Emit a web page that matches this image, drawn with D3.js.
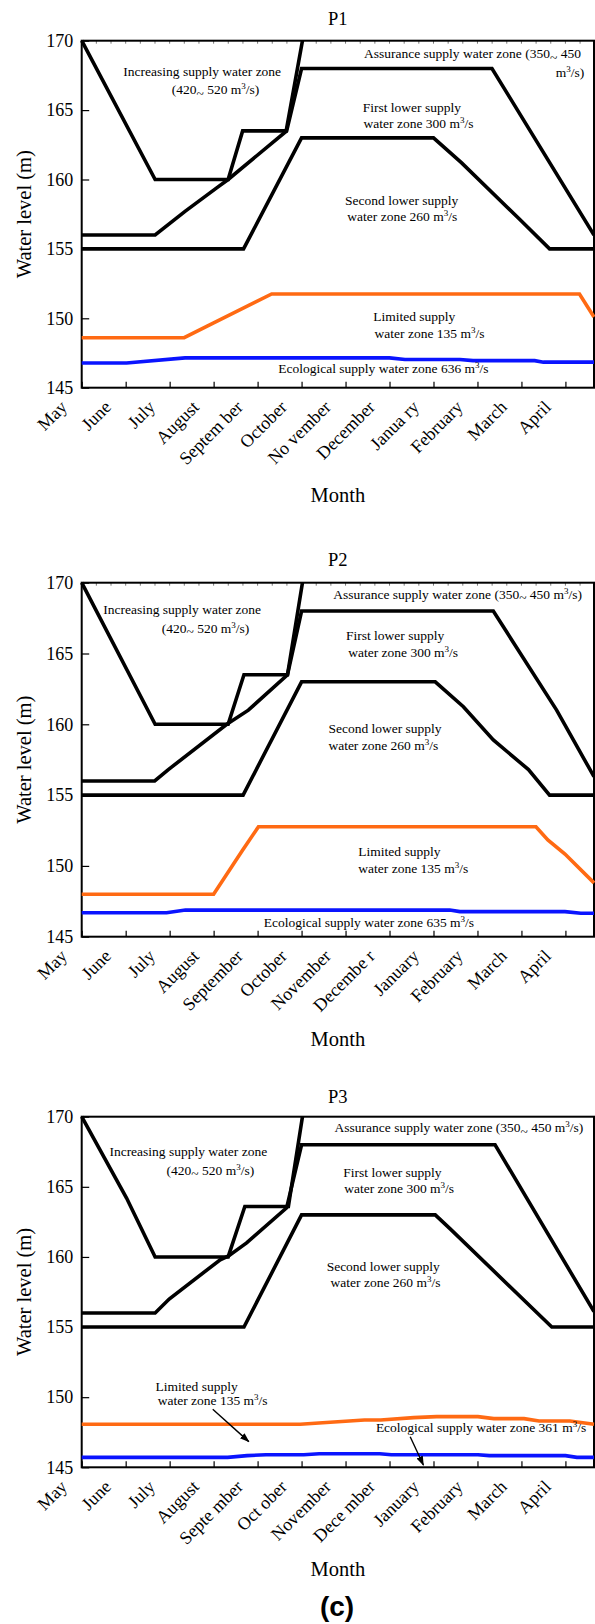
<!DOCTYPE html>
<html><head><meta charset="utf-8">
<script src="https://cdn.jsdelivr.net/npm/d3@7"></script>
<style>
body{margin:0;background:#fff}
text{font-family:"Liberation Serif","Times New Roman",serif;fill:#000}
</style>
</head><body>
<svg id="c" width="595" height="1624"></svg>
<script>
// ---------------- DATA ----------------
const yTicks = [145, 150, 155, 160, 165, 170];
const monthTicks = [0,1,2,3,4,5,6,7,8,9,10,11];
const p1Months = ["May","June","July","August","Septem ber","October","No vember","December","Janua ry","February","March","April"];
const p2Months = ["May","June","July","August","September","October","November","Decembe r","January","February","March","April"];
const p3Months = ["May","June","July","August","Septe mber","Oct ober","November","Dece mber","January","February","March","April"];

// [month index from 1 May, water level m]
const p1Increasing  = [[0,170],[1.67,160],[3.33,160],[3.66,163.5],[4.65,163.5],[5.02,170]];
const p1FirstLower  = [[0,156],[1.67,156],[2.35,157.7],[3.07,159.4],[3.33,160],[4.66,163.5],[5.0,168],[9.33,168],[11.65,156]];
const p1SecondLower = [[0,155],[3.68,155],[5.0,163],[8.0,163],[8.64,161.2],[9.97,157.1],[10.64,155],[11.65,155]];
const p1Limited     = [[0,148.6],[2.33,148.6],[2.99,149.65],[4.32,151.75],[11.32,151.75],[11.65,150.1]];
const p1Ecological  = [[0,146.78],[1.02,146.78],[2.35,147.15],[7.0,147.15],[7.35,147.03],[8.6,147.03],[8.9,146.95],[10.3,146.95],[10.5,146.84],[11.65,146.84]];

const p2Increasing  = [[0,170],[1.67,160],[3.33,160],[3.69,163.5],[4.68,163.5],[5.02,170]];
const p2FirstLower  = [[0,156],[1.66,156],[1.97,156.8],[3.3,160],[3.79,161],[4.68,163.5],[5.0,168],[9.36,168],[10.8,161],[11.65,156.3]];
const p2SecondLower = [[0,155],[3.67,155],[5.0,163],[8.04,163],[8.68,161.24],[9.36,158.9],[10.16,156.8],[10.64,155],[11.65,155]];
const p2Limited     = [[0,148],[3.0,148],[3.65,151.07],[4.02,152.77],[10.33,152.77],[10.6,151.83],[10.99,150.84],[11.65,148.8]];
const p2Ecological  = [[0,146.69],[1.93,146.69],[2.36,146.88],[8.37,146.88],[8.6,146.77],[10.99,146.77],[11.35,146.66],[11.65,146.66]];

const p3Increasing  = [[0,170],[1.02,164.2],[1.67,160],[3.33,160],[3.71,163.6],[4.7,163.6],[5.02,170]];
const p3FirstLower  = [[0,156],[1.67,156],[1.99,157],[3.15,159.8],[3.34,160.07],[3.75,161],[4.66,163.5],[5.0,168],[9.4,168],[11.65,156.1]];
const p3SecondLower = [[0,155],[3.69,155],[5.0,163],[8.04,163],[8.38,162],[10.69,155],[11.65,155]];
const p3Limited     = [[0,148.07],[4.97,148.07],[5.48,148.18],[6.43,148.37],[6.8,148.37],[7.55,148.54],[8.07,148.61],[9.01,148.61],[9.37,148.47],[10.06,148.47],[10.4,148.3],[11.1,148.3],[11.65,148.07]];
const p3Ecological  = [[0,145.71],[3.32,145.71],[3.76,145.83],[4.19,145.9],[5.05,145.9],[5.4,145.97],[6.78,145.97],[7.04,145.9],[9.01,145.9],[9.27,145.83],[11.0,145.83],[11.26,145.71],[11.65,145.71]];

// annotation texts ("^3" = superscript 3, "~" = lowered tilde)
const p1Notes = ["Increasing supply water zone","(420~ 520 m^3/s)","Assurance supply water zone (350~ 450","m^3/s)","First lower supply","water zone 300 m^3/s","Second lower supply","water zone 260 m^3/s","Limited supply","water zone 135 m^3/s","Ecological supply water zone 636 m^3/s"];
const p2Notes = ["Increasing supply water zone","(420~ 520 m^3/s)","Assurance supply water zone (350~ 450 m^3/s)","First lower supply","water zone 300 m^3/s","Second lower supply","water zone 260 m^3/s","Limited supply","water zone 135 m^3/s","Ecological supply water zone 635 m^3/s"];
const p3Notes = ["Increasing supply water zone","(420~ 520 m^3/s)","Assurance supply water zone (350~ 450 m^3/s)","First lower supply","water zone 300 m^3/s","Second lower supply","water zone 260 m^3/s","Limited supply","water zone 135 m^3/s","Ecological supply water zone 361 m^3/s"];

// ---------------- LAYOUT ----------------
const p1NotePos = [[0.946,167.46,"start"],[2.047,166.14,"start"],[6.42,168.73,"start"],[11.43,167.41,"end"],[6.39,164.88,"start"],[6.41,163.69,"start"],[5.99,158.16,"start"],[6.04,157.03,"start"],[6.63,149.83,"start"],[6.66,148.56,"start"],[4.47,146.04,"start"]];
const p2NotePos = [[0.49,167.79,"start"],[1.82,166.47,"start"],[5.72,168.85,"start"],[6.01,165.95,"start"],[6.06,164.73,"start"],[5.61,159.36,"start"],[5.61,158.19,"start"],[6.29,150.7,"start"],[6.29,149.48,"start"],[4.14,145.71,"start"]];
const p3NotePos = [[0.63,167.2,"start"],[1.93,165.85,"start"],[5.75,168.89,"start"],[5.95,165.73,"start"],[5.97,164.54,"start"],[5.57,159.02,"start"],[5.66,157.84,"start"],[1.68,150.46,"start"],[1.73,149.44,"start"],[6.69,147.54,"start"]];
const p3Arrows = [[[2.98,149.14],[3.80,146.83]],[[7.47,147.18],[7.77,145.16]]];

const LEFT = 81.7, RIGHT = 594, XMAX = 11.65;
const BLACK = "#000", ORANGE = "#ff6a13", BLUE = "#0a14ff";

const panels = [
  {title:"P1", top:40.7, bottom:387.7, titleY:24.5, monthY:501.7, labels:p1Months,
   lines:[[p1Increasing,BLACK],[p1FirstLower,BLACK],[p1SecondLower,BLACK],[p1Limited,ORANGE],[p1Ecological,BLUE]],
   notes:p1Notes, notePos:p1NotePos, arrows:[], topTicks:true},
  {title:"P2", top:582.7, bottom:936.7, titleY:566, monthY:1045.5, labels:p2Months,
   lines:[[p2Increasing,BLACK],[p2FirstLower,BLACK],[p2SecondLower,BLACK],[p2Limited,ORANGE],[p2Ecological,BLUE]],
   notes:p2Notes, notePos:p2NotePos, arrows:[], topTicks:true},
  {title:"P3", top:1116.7, bottom:1467.3, titleY:1102.7, monthY:1575.5, labels:p3Months,
   lines:[[p3Increasing,BLACK],[p3FirstLower,BLACK],[p3SecondLower,BLACK],[p3Limited,ORANGE],[p3Ecological,BLUE]],
   notes:p3Notes, notePos:p3NotePos, arrows:p3Arrows, topTicks:false}
];

const svg = d3.select("#c");
svg.append("defs").append("marker")
  .attr("id","arr").attr("viewBox","0 0 10 10").attr("refX",9).attr("refY",5)
  .attr("markerWidth",7).attr("markerHeight",7).attr("orient","auto")
  .append("path").attr("d","M0,1.5 L10,5 L0,8.5 Z").attr("fill","#000");

function richText(sel, str){
  const parts = str.split(/(\^3|~)/).filter(s => s.length);
  let shift = 0;
  parts.forEach(p => {
    if (p === "^3"){
      sel.append("tspan").attr("dy", -5 - shift).attr("font-size", "9px").text("3");
      shift = -5;
    } else if (p === "~"){
      sel.append("tspan").attr("dy", 3.5 - shift).text("~");
      shift = 3.5;
    } else {
      const t = sel.append("tspan").text(p);
      if (shift !== 0){ t.attr("dy", -shift); shift = 0; }
    }
  });
}

panels.forEach(P => {
  const x = d3.scaleLinear().domain([0, XMAX]).range([LEFT, RIGHT]);
  const y = d3.scaleLinear().domain([145, 170]).range([P.bottom, P.top]);
  const g = svg.append("g");

  // y axis ticks (inward) + labels
  const yAx = g.append("g").attr("transform",`translate(${LEFT},0)`)
    .call(d3.axisLeft(y).tickValues(yTicks).tickSizeInner(-7.5).tickSizeOuter(0).tickPadding(8.5).tickFormat(d3.format("d")));
  yAx.select(".domain").remove();
  yAx.selectAll("line").attr("stroke","#000").attr("stroke-width",1.2);
  yAx.selectAll("text").attr("font-size","18px").attr("font-family","Liberation Serif, serif").attr("fill","#000");

  // x axis ticks (inward)
  const xAx = g.append("g").attr("transform",`translate(0,${P.bottom})`)
    .call(d3.axisBottom(x).tickValues(monthTicks).tickSizeInner(-6).tickSizeOuter(0).tickFormat(""));
  xAx.select(".domain").remove();
  xAx.selectAll("line").attr("stroke","#000").attr("stroke-width",1.2);

  // month labels rotated
  g.selectAll(".ml").data(monthTicks).enter().append("text")
    .attr("transform", d => `translate(${x(d)-13.5},${P.bottom+20.5}) rotate(-45)`)
    .attr("text-anchor","end").attr("font-size","18px")
    .text((d,i) => P.labels[i]);

  // top minor ticks (every third of a month)
  if (P.topTicks){
    const minor = d3.range(1, 35).map(k => k/3).filter(v => v < XMAX);
    g.selectAll(".tt").data(minor).enter().append("line")
      .attr("x1", d => x(d)).attr("x2", d => x(d))
      .attr("y1", P.top).attr("y2", P.top + 3)
      .attr("stroke","#555").attr("stroke-width",0.8);
  }

  // frame
  g.append("rect").attr("x", LEFT).attr("y", P.top)
    .attr("width", RIGHT - LEFT).attr("height", P.bottom - P.top)
    .attr("fill","none").attr("stroke","#000").attr("stroke-width",2);

  // data lines
  const line = d3.line().x(d => x(d[0])).y(d => y(d[1]));
  P.lines.forEach(([data, col]) => {
    g.append("path").datum(data).attr("d", line)
      .attr("fill","none").attr("stroke", col)
      .attr("stroke-width", 3.6)
      .attr("stroke-linejoin","miter").attr("stroke-linecap","butt");
  });

  // annotations
  P.notes.forEach((s, i) => {
    const [m, v, anchor] = P.notePos[i];
    const t = g.append("text").attr("x", x(m)).attr("y", y(v))
      .attr("font-size","13.5px").attr("text-anchor", anchor);
    richText(t, s);
  });
  P.arrows.forEach(a => {
    g.append("line").attr("x1", x(a[0][0])).attr("y1", y(a[0][1]))
      .attr("x2", x(a[1][0])).attr("y2", y(a[1][1]))
      .attr("stroke","#000").attr("stroke-width",1.4).attr("marker-end","url(#arr)");
  });

  // title, axis titles
  g.append("text").attr("x", (LEFT+RIGHT)/2).attr("y", P.titleY)
    .attr("text-anchor","middle").attr("font-size","18.5px").text(P.title);
  g.append("text").attr("x", (LEFT+RIGHT)/2).attr("y", P.monthY)
    .attr("text-anchor","middle").attr("font-size","20.5px").text("Month");
  g.append("text").attr("transform", `translate(31,${(P.top+P.bottom)/2}) rotate(-90)`)
    .attr("text-anchor","middle").attr("font-size","20.5px").text("Water level (m)");
});

svg.append("text").attr("x", 337).attr("y", 1616).attr("text-anchor","middle")
  .style("font-family","'Liberation Sans', Arial, sans-serif").attr("font-weight","bold")
  .attr("font-size","28px").text("(c)");
</script>
</body></html>
